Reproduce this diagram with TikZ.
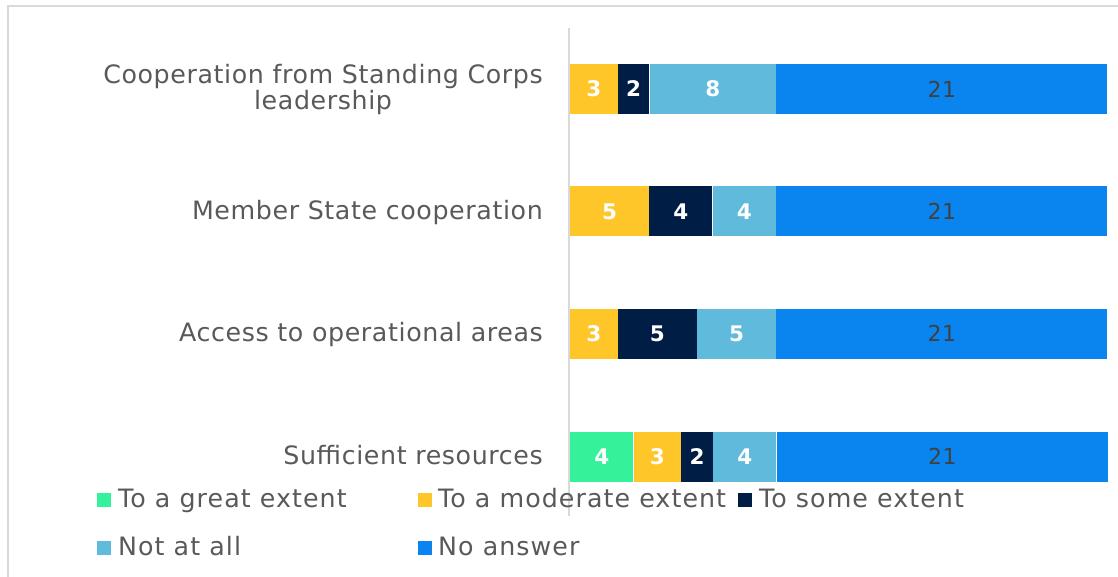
\documentclass[tikz,border=0pt]{standalone}
\usepackage{fontspec}
\setmainfont[LetterSpace=2.4]{DejaVu Sans}
\newfontfamily\legfont[LetterSpace=4.2]{DejaVu Sans}
\definecolor{cgreat}{HTML}{35F29A}
\definecolor{cmod}{HTML}{FFC629}
\definecolor{csome}{HTML}{001E45}
\definecolor{cnot}{HTML}{5FBADB}
\definecolor{cno}{HTML}{0A85F0}
\definecolor{ctext}{HTML}{595959}
\definecolor{cdark}{HTML}{404040}
\definecolor{cframe}{HTML}{D9D9D9}
\def\u{15.765}
\begin{document}
\begin{tikzpicture}[x=1pt,y=-1pt,
  seg/.style={fill=#1, minimum height=50pt, inner sep=0pt, anchor=west,
    text=white, font=\fontsize{21.5}{21.5}\selectfont\bfseries},
  segna/.style={seg=cno, text=cdark, font=\fontsize{22}{22}\selectfont},
  cat/.style={anchor=base east, align=center, text=ctext, inner sep=0pt,
    font=\fontsize{25.3}{26.2}\selectfont},
  mark/.style={fill=#1, minimum width=14pt, minimum height=14pt, inner sep=0pt},
  leg/.style={anchor=base west, text=ctext, inner sep=0pt, font=\legfont\fontsize{25.3}{27}\selectfont},
  gridline/.style={draw=cframe, line width=2pt}]
\useasboundingbox (0,0) rectangle (1118,577);
\draw[gridline] (8,577) |- (1118,6);
\draw[gridline] (569,28) -- (569,516);
% row 1
\node[cat] (l1) at (543,109.5) {Cooperation from Standing Corps\\leadership};
\node[seg=cmod, minimum width={3*\u pt}] (a1) at (570,89) {3};
\node[seg=csome, minimum width={2*\u pt}] (a2) at (a1.east) {2};
\node[seg=cnot, minimum width={8*\u pt}] (a3) at (a2.east) {8};
\node[segna, minimum width={21*\u pt}] (a4) at (a3.east) {21};
% row 2
\node[cat] (l2) at (543,219.3) {Member State cooperation};
\node[seg=cmod, minimum width={5*\u pt}] (b1) at (570,211.5) {5};
\node[seg=csome, minimum width={4*\u pt}] (b2) at (b1.east) {4};
\node[seg=cnot, minimum width={4*\u pt}] (b3) at (b2.east) {4};
\node[segna, minimum width={21*\u pt}] (b4) at (b3.east) {21};
% row 3
\node[cat] (l3) at (543,341.3) {Access to operational areas};
\node[seg=cmod, minimum width={3*\u pt}] (c1) at (570,333.5) {3};
\node[seg=csome, minimum width={5*\u pt}] (c2) at (c1.east) {5};
\node[seg=cnot, minimum width={5*\u pt}] (c3) at (c2.east) {5};
\node[segna, minimum width={21*\u pt}] (c4) at (c3.east) {21};
% row 4
\node[cat] (l4) at (543,464.3) {Sufficient resources};
\node[seg=cgreat, minimum width={4*\u pt}] (d1) at (570,456.5) {4};
\node[seg=cmod, minimum width={3*\u pt}] (d2) at (d1.east) {3};
\node[seg=csome, minimum width={2*\u pt}] (d3) at (d2.east) {2};
\node[seg=cnot, minimum width={4*\u pt}] (d4) at (d3.east) {4};
\node[segna, minimum width={21*\u pt}] (d5) at (d4.east) {21};
% legend
\node[mark=cgreat] (m1) at (104,500) {};
\node[leg] (t1) at (118,507.3) {To a great extent};
\node[mark=cmod] (m2) at (424.5,500) {};
\node[leg] (t2) at (438,507.3) {To a moderate extent};
\node[mark=csome] (m3) at (745,500) {};
\node[leg] (t3) at (759,507.3) {To some extent};
\node[mark=cnot] (m4) at (104,547.5) {};
\node[leg] (t4) at (118,555) {Not at all};
\node[mark=cno] (m5) at (424.5,547.5) {};
\node[leg] (t5) at (438,555) {No answer};
\end{tikzpicture}
\end{document}
